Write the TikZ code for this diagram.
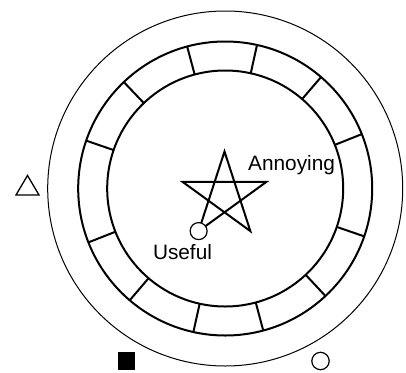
\documentclass[tikz,border=0pt]{standalone}
\usepackage{fontspec}
\setmainfont{Liberation Sans}
\usetikzlibrary{calc}
\begin{document}
\begin{tikzpicture}[x=1pt,y=-1pt,
  thinline/.style={line width=1pt},
  ringline/.style={line width=2pt},
  lbl/.style={inner sep=0pt,anchor=base west,font=\fontsize{20.8}{25}\selectfont},
  marker/.style={draw,line width=1.2pt,fill=white,circle,inner sep=0pt,minimum size=17pt}]
\useasboundingbox (0,0) rectangle (406,372);
\coordinate (c) at (225.2,188.5);
\coordinate (s) at (224.5,195.5);
% outer circle
\draw[thinline] (c) circle[radius=177.5];
% ring
\draw[ringline] (c) circle[radius=147];
\draw[ringline] (c) circle[radius=118];
\foreach \a in {77.5,49.3,21.7,-19,-47,-75,-102.5,-130.5,-158.5,161,133.6,105}
  \draw[ringline] ($(c)+(-\a:118)$) -- ($(c)+(-\a:147)$);
% star
\draw[ringline,line join=miter] ($(s)+(-90:44)$) -- ($(s)+(-234:44)$) -- ($(s)+(-18:44)$)
  -- ($(s)+(-162:44)$) -- ($(s)+(-306:44)$) -- cycle;
\node[marker] (useful) at ($(s)+(-234:44)$) {};
\node[lbl] (lann) at (248,170.7) {Annoying};
\node[lbl] (luse) at (152.8,259.3) {Useful};
% triangle
\draw[line width=1.3pt,line join=miter] (27.5,175.5) -- (39,195) -- (16,195) -- cycle;
% black square
\fill (117.7,351.7) rectangle (135.3,370);
% small circle
\node[marker,minimum size=17.4pt] (dot) at (320.5,361) {};
\end{tikzpicture}
\end{document}
